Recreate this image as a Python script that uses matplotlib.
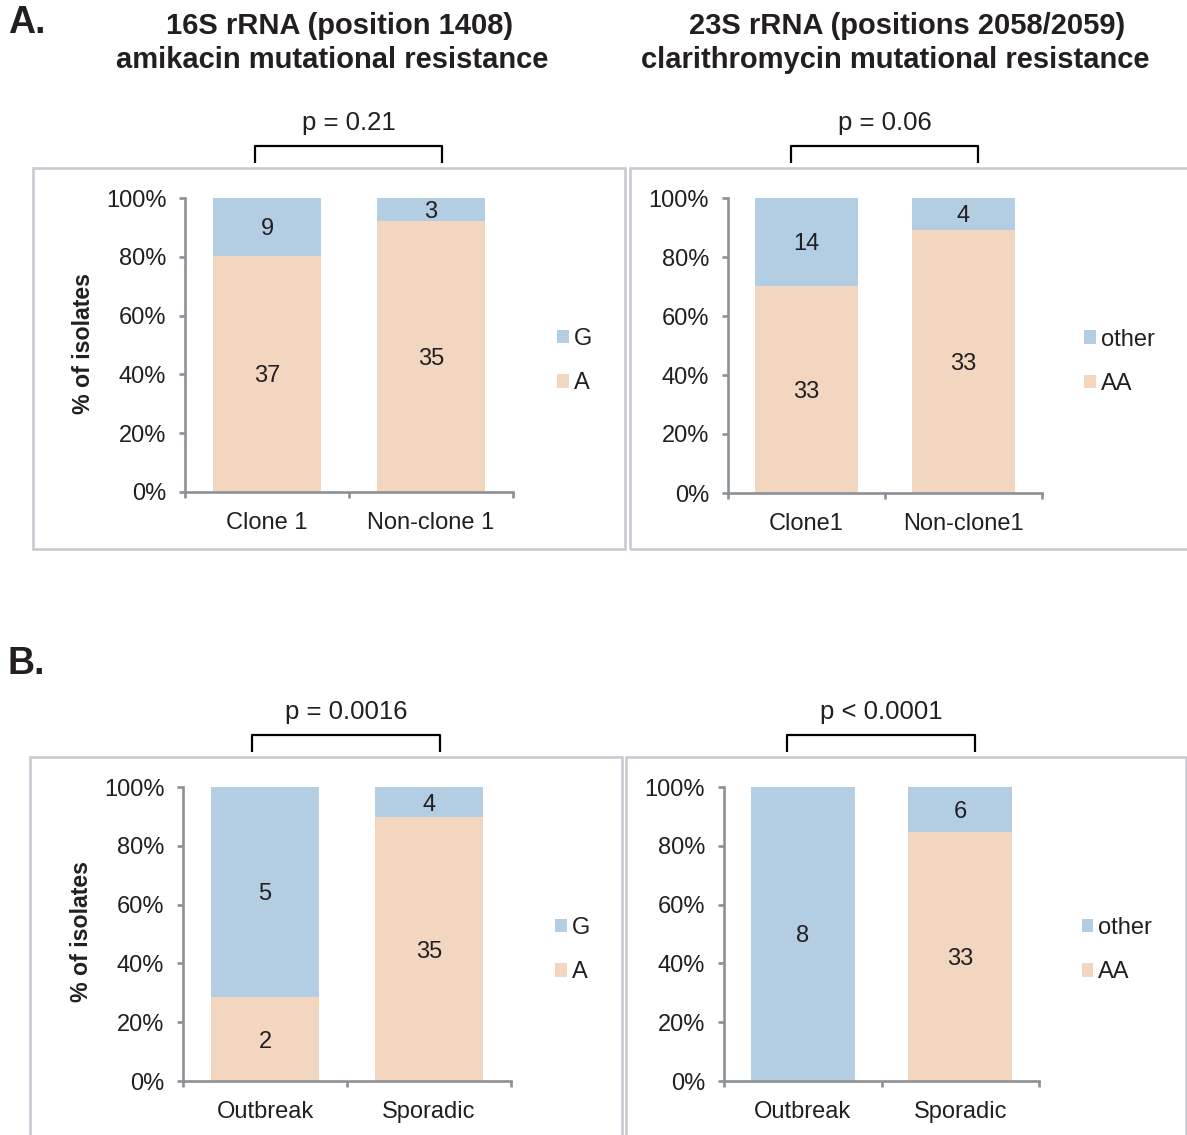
import matplotlib
matplotlib.use("Agg")
import matplotlib.pyplot as plt
from matplotlib.patches import Rectangle, Patch
from matplotlib.lines import Line2D
import numpy as np

plt.rcParams['font.family'] = ['Liberation Sans', 'DejaVu Sans']

# ---- data: isolate counts per group ----
cat_a16 = ["Clone 1", "Non-clone 1"]
a16_A = [37, 35]
a16_G = [9, 3]

cat_a23 = ["Clone1", "Non-clone1"]
a23_AA = [33, 33]
a23_other = [14, 4]

cat_b16 = ["Outbreak", "Sporadic"]
b16_A = [2, 35]
b16_G = [5, 4]

cat_b23 = ["Outbreak", "Sporadic"]
b23_AA = [0, 33]
b23_other = [8, 6]

p_values = ["p = 0.21", "p = 0.06", "p = 0.0016", "p < 0.0001"]
title_left = ["16S rRNA (position 1408)", "amikacin mutational resistance"]
title_right = ["23S rRNA (positions 2058/2059)", "clarithromycin mutational resistance"]
ytick_vals = [0, 0.2, 0.4, 0.6, 0.8, 1.0]
ytick_labels = ["0%", "20%", "40%", "60%", "80%", "100%"]

# ---- styling ----
W, H = 1187, 1135
BLUE = "#b3cde3"
PEACH = "#f3d6c0"
AXC = "#8c9197"
BOXC = "#c7cbd1"
TXT = "#231f20"
FS = 17

fig = plt.figure(figsize=(W / 100, H / 100), dpi=100)


def fx(x):
    return x / W


def fy(y):
    return 1 - y / H


def panel_box(x0, y0, x1, y1):
    fig.patches.append(Rectangle((fx(x0), fy(y1)), fx(x1) - fx(x0), fy(y0) - fy(y1),
                                 transform=fig.transFigure, fill=False,
                                 edgecolor=BOXC, linewidth=1.9, zorder=0))


def bracket(x0, x1, ytop, ybot, label):
    fig.add_artist(Line2D([fx(x0), fx(x0), fx(x1), fx(x1)],
                          [fy(ybot), fy(ytop), fy(ytop), fy(ybot)],
                          transform=fig.transFigure, color="black", linewidth=1.6,
                          solid_joinstyle="round", solid_capstyle="butt"))
    fig.text(fx((x0 + x1) / 2), fy(ytop - 23), label, ha="center", va="center",
             fontsize=18.5, color=TXT)


def stacked(left, right, top, bottom, cats, base, top_vals, labels, ylabel):
    ax = fig.add_axes([fx(left), fy(bottom), fx(right) - fx(left), fy(top) - fy(bottom)])
    base = np.array(base, dtype=float)
    top_vals = np.array(top_vals, dtype=float)
    tot = base + top_vals
    fb = base / tot
    ft = top_vals / tot
    x = np.arange(len(cats))
    ax.bar(x, fb, width=0.66, color=PEACH, label=labels[1], linewidth=0)
    ax.bar(x, ft, bottom=fb, width=0.66, color=BLUE, label=labels[0], linewidth=0)
    for xi, b, t, nb, nt in zip(x, fb, ft, base, top_vals):
        if nb > 0:
            ax.text(xi, b / 2, f"{int(nb)}", ha="center", va="center_baseline",
                    fontsize=FS, color=TXT)
        if nt > 0:
            ax.text(xi, b + t / 2, f"{int(nt)}", ha="center", va="center_baseline",
                    fontsize=FS, color=TXT)
    ax.set_xlim(-0.5, len(cats) - 0.5)
    ax.set_ylim(0, 1)
    for s in ["top", "right"]:
        ax.spines[s].set_visible(False)
    for s in ["left", "bottom"]:
        ax.spines[s].set_color(AXC)
        ax.spines[s].set_linewidth(1.9)
    ax.set_yticks(ytick_vals)
    ax.set_yticklabels(ytick_labels)
    ax.tick_params(axis="y", direction="out", length=4.5, width=1.9, color=AXC,
                   labelsize=FS, labelcolor=TXT, pad=9)
    ax.set_xticks(x)
    ax.set_xticklabels(cats)
    ax.set_xticks(np.arange(len(cats) + 1) - 0.5, minor=True)
    ax.tick_params(axis="x", which="major", length=0, labelsize=FS, labelcolor=TXT, pad=14.5)
    ax.tick_params(axis="x", which="minor", direction="out", length=4.5, width=1.9, color=AXC)
    handles = [Patch(facecolor=BLUE, edgecolor="none", label=labels[0]),
               Patch(facecolor=PEACH, edgecolor="none", label=labels[1])]
    ax.legend(handles=handles, loc="center left", bbox_to_anchor=(1.135, 0.445),
              frameon=False, fontsize=FS, handlelength=0.5, handleheight=0.5,
              handletextpad=0.2, labelspacing=0.95, borderpad=0, borderaxespad=0,
              labelcolor=TXT)
    if ylabel:
        fig.text(fx(left - 101), fy((top + bottom) / 2 - 2), "% of isolates", rotation=90,
                 ha="center", va="center", fontsize=16.7, fontweight="bold", color=TXT)
    ax.patch.set_alpha(0)
    return ax


# panel frames
panel_box(33, 168, 625, 549)
panel_box(630, 168, 1192, 549)
panel_box(30, 757, 622, 1140)
panel_box(626, 757, 1186, 1140)

# panel A
stacked(185, 513, 198, 492, cat_a16, a16_A, a16_G, ["G", "A"], True)
stacked(728, 1042, 198, 493, cat_a23, a23_AA, a23_other, ["other", "AA"], False)
# panel B
stacked(183, 511, 787, 1081, cat_b16, b16_A, b16_G, ["G", "A"], True)
stacked(724, 1039, 787, 1081, cat_b23, b23_AA, b23_other, ["other", "AA"], False)

# significance brackets
bracket(255, 442, 146, 163, p_values[0])
bracket(791, 978, 146, 163, p_values[1])
bracket(252, 440, 735, 752, p_values[2])
bracket(787, 975, 735, 752, p_values[3])

# titles and panel letters
for txt, cx, cy in [(title_left[0], 340, 25.5), (title_left[1], 332, 60),
                    (title_right[0], 907, 25.5), (title_right[1], 895, 60)]:
    fig.text(fx(cx), fy(cy), txt, ha="center", va="center", fontsize=21,
             fontweight="bold", color=TXT)
fig.text(fx(8), fy(23), "A.", ha="left", va="center", fontsize=27, fontweight="bold", color=TXT)
fig.text(fx(8), fy(664), "B.", ha="left", va="center", fontsize=27, fontweight="bold", color=TXT)

fig.savefig("out.png", dpi=100, facecolor="white")
